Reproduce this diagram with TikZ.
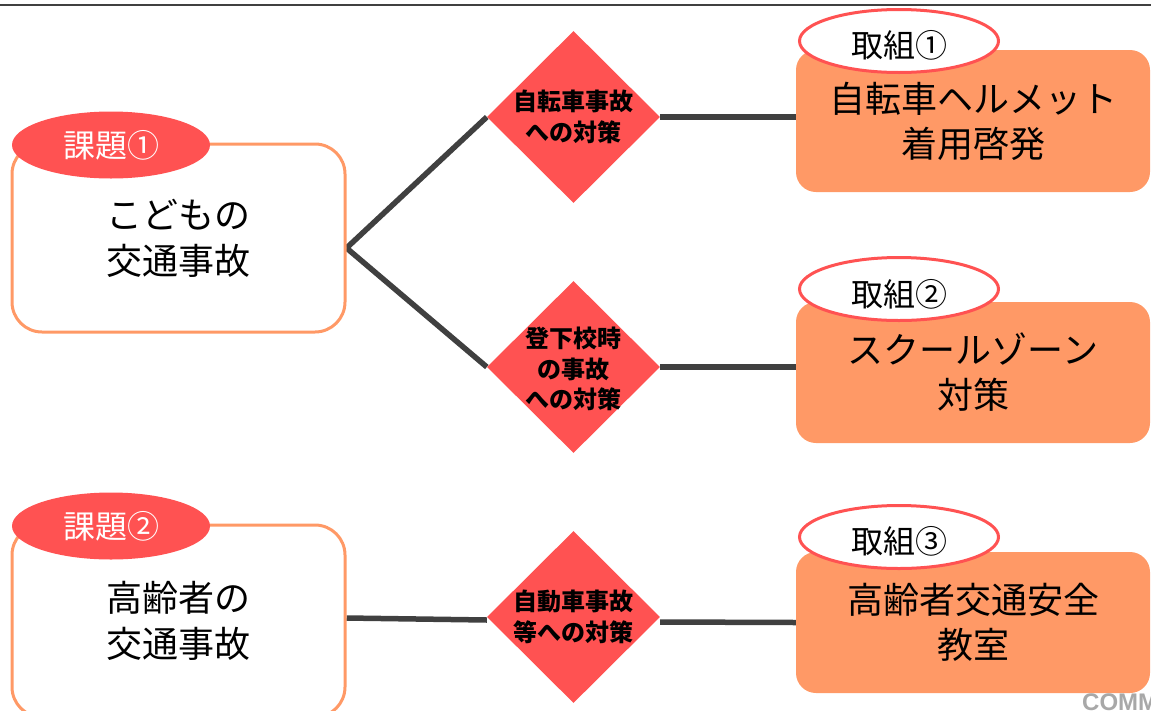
\documentclass[tikz,border=0pt]{standalone}
\usepackage{fontspec}
\setmainfont{Noto Sans CJK JP}
\newfontfamily\wmfont{Liberation Sans}
\usetikzlibrary{shapes.geometric,backgrounds}
\definecolor{kred}{HTML}{FF5252}
\definecolor{korange}{HTML}{FF9966}
\definecolor{kdark}{HTML}{404040}
\definecolor{kgray}{HTML}{A8A8A8}
\begin{document}
\begin{tikzpicture}[x=1pt,y=-1pt,
  issuebox/.style={draw=korange, line width=3pt, fill=white, rounded corners=30pt,
    minimum width=333pt, inner sep=0pt, align=center, font=\fontsize{36}{46}\selectfont},
  issuelabel/.style={ellipse, fill=kred, minimum width=198pt, minimum height=67pt,
    inner sep=0pt, text=white, font=\fontsize{32}{32}\selectfont},
  dia/.style={diamond, fill=kred, minimum width=173pt, minimum height=172pt, inner sep=0pt},
  diatext/.style={align=center, inner sep=0pt, font=\bfseries\fontsize{24}{30.5}\selectfont},
  actbox/.style={fill=korange, rounded corners=20pt, minimum width=354pt, inner sep=0pt,
    align=center, font=\fontsize{36}{45}\selectfont},
  actlabel/.style={ellipse, draw=kred, line width=3pt, fill=white, minimum width=199pt,
    minimum height=63pt, inner sep=0pt},
  acttext/.style={inner sep=0pt, font=\fontsize{32}{32}\selectfont},
  conn/.style={draw=kdark, line width=5.5pt}
]
\useasboundingbox (0,0) rectangle (1151,710);
\clip (0,0) rectangle (1151,710);
\draw[kdark, line width=2.5pt] (0,5) -- (1151,5);

% issue boxes
\node[issuebox, minimum height=188pt] (b1) at (178.5,238) {こどもの\\交通事故};
\node[issuebox, minimum height=192pt] (b2) at (178.5,621) {高齢者の\\交通事故};
\node[issuelabel] (l1) at (111,145) {課題①};
\node[issuelabel] (l2) at (111,526) {課題②};

% diamonds
\node[dia] (d1) at (573.5,117) {};
\node[diatext] (dt1) at (d1) {自転車事故\\への対策};
\node[dia] (d2) at (573.5,367) {};
\node[diatext] (dt2) at ([yshift=-2pt]d2.center) {登下校時\\の事故\\への対策};
\node[dia] (d3) at (573.5,617) {};
\node[diatext] (dt3) at (d3) {自動車事故\\等への対策};

% action boxes
\node[actbox, minimum height=142pt] (a1) at (973,121) {自転車ヘルメット\\着用啓発};
\node[actbox, minimum height=141pt] (a2) at (973,372.5) {スクールゾーン\\対策};
\node[actbox, minimum height=141pt] (a3) at (973,622.5) {高齢者交通安全\\教室};
\node[actlabel] (t1) at (899,41) {};
\node[acttext] (tt1) at ([yshift=-4pt]t1.center) {取組①};
\node[actlabel] (t2) at (899,289) {};
\node[acttext] (tt2) at ([yshift=-5pt]t2.center) {取組②};
\node[actlabel] (t3) at (899,537) {};
\node[acttext] (tt3) at ([yshift=-4pt]t3.center) {取組③};

\node[anchor=north west, inner sep=0pt, text=kgray,
  font=\wmfont\bfseries\fontsize{24}{24}\selectfont] (wm) at (1082,694) {COMM};

% connectors
\begin{pgfonlayer}{background}
\coordinate (j1) at ([yshift=-10pt]b1.east);
\draw[conn] (j1) -- (d1.west);
\draw[conn] (j1) -- (d2.west);
\draw[conn] (d1.east) -- (d1.east -| a1.west);
\draw[conn] (d2.east) -- (d2.east -| a2.west);
\coordinate (j2) at ([yshift=3pt]b2.east);
\draw[conn] (j2) -- ([yshift=-3pt]d3.west);
\draw[conn] ([yshift=-5pt]d3.east) -- (a3.west);
\end{pgfonlayer}
\end{tikzpicture}
\end{document}
